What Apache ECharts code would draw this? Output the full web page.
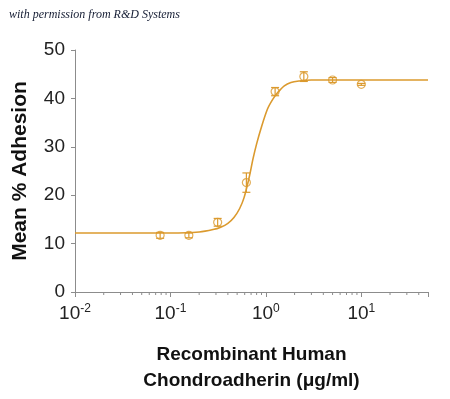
<!DOCTYPE html>
<html>
<head>
<meta charset="utf-8">
<script src="https://cdn.jsdelivr.net/npm/echarts@6/dist/echarts.min.js"></script>
<style>
  html, body { margin: 0; padding: 0; background: #fff; }
</style>
</head>
<body>
<div id="adhesionChart" style="width:450px; height:399px;"></div>
<script>
// measured points (ug/ml vs mean % adhesion)
const concs = [0.078, 0.156, 0.3125, 0.625, 1.25, 2.5, 5, 10];
const meanAdhesion = [11.7, 11.7, 14.4, 22.6, 41.4, 44.5, 43.8, 42.9];
const errAdhesion = [0.6, 0.5, 0.8, 2.0, 0.85, 1.0, 0.5, 0.2];

// fitted curve
const curveX = [0.01, 0.1, 0.2, 0.28, 0.336, 0.4, 0.463, 0.53, 0.591, 0.667, 0.735, 0.8, 0.886, 1.04, 1.18, 1.33, 1.56, 1.83, 2.24, 3, 50];
const curveY = [12.2, 12.2, 12.4, 12.9, 13.4, 14.2, 15.4, 17.2, 19.5, 23.6, 27.6, 30.6, 33.7, 37.8, 39.8, 41.2, 42.6, 43.3, 43.6, 43.8, 43.8];

// minor ticks of the log axis
const minorTicks = [0.02, 0.03, 0.04, 0.05, 0.06, 0.07, 0.08, 0.09,
  0.2, 0.3, 0.4, 0.5, 0.6, 0.7, 0.8, 0.9,
  2, 3, 4, 5, 6, 7, 8, 9,
  20, 30, 40];

const orange = '#DB9A2E';
const axisGray = '#8c8c8c';

const chart = echarts.init(document.getElementById('adhesionChart'));

chart.setOption({
  animation: false,
  grid: { left: 75, right: 22, top: 50, bottom: 103 },
  graphic: [{
    type: 'text',
    left: 9, top: 9,
    style: {
      text: 'with permission from R&D Systems',
      font: 'italic 12px "Liberation Serif", serif',
      fill: '#141c33'
    }
  }],
  xAxis: {
    type: 'log',
    logBase: 10,
    min: 0.01,
    max: 50,
    name: 'Recombinant Human\nChondroadherin (\u03bcg/ml)',
    nameLocation: 'middle',
    nameGap: 50,
    nameTextStyle: {
      fontFamily: 'Liberation Sans, Arial',
      fontWeight: 'bold',
      fontSize: 19,
      lineHeight: 26,
      color: '#111'
    },
    axisLine: { lineStyle: { color: axisGray, width: 1 } },
    axisTick: { show: true, length: 5, lineStyle: { color: axisGray } },
    splitLine: { show: false },
    axisLabel: {
      margin: 11,
      formatter: function (v) {
        const e = Math.round(Math.log10(v));
        if (Math.abs(Math.log10(v) - e) > 1e-6) return '';
        return '{b|10}{s|' + e + '}';
      },
      rich: {
        b: { fontFamily: 'Liberation Sans, Arial', fontSize: 19, color: '#222', lineHeight: 22 },
        s: { fontFamily: 'Liberation Sans, Arial', fontSize: 12, color: '#222', verticalAlign: 'top', lineHeight: 22 }
      }
    }
  },
  yAxis: {
    type: 'value',
    min: 0,
    max: 50,
    interval: 10,
    name: 'Mean % Adhesion',
    nameLocation: 'middle',
    nameGap: 44,
    nameTextStyle: {
      fontFamily: 'Liberation Sans, Arial',
      fontWeight: 'bold',
      fontSize: 21,
      color: '#111'
    },
    axisLine: { show: true, lineStyle: { color: axisGray, width: 1 } },
    axisTick: { show: true, length: 4, lineStyle: { color: axisGray } },
    splitLine: { show: false },
    axisLabel: {
      margin: 10,
      fontFamily: 'Liberation Sans, Arial',
      fontSize: 19,
      color: '#222'
    }
  },
  series: [
    {
      type: 'line',
      name: 'fit',
      data: curveX.map((x, i) => [x, curveY[i]]),
      smooth: 0.3,
      showSymbol: false,
      lineStyle: { color: orange, width: 1.6 },
      z: 2
    },
    {
      type: 'custom',
      name: 'errors',
      data: concs.map((x, i) => [x, meanAdhesion[i] - errAdhesion[i], meanAdhesion[i] + errAdhesion[i]]),
      renderItem: function (params, api) {
        const lo = api.coord([api.value(0), api.value(1)]);
        const hi = api.coord([api.value(0), api.value(2)]);
        const w = 4;
        const st = { stroke: orange, lineWidth: 1.2 };
        return {
          type: 'group',
          children: [
            { type: 'line', shape: { x1: lo[0], y1: lo[1], x2: hi[0], y2: hi[1] }, style: st },
            { type: 'line', shape: { x1: lo[0] - w, y1: lo[1], x2: lo[0] + w, y2: lo[1] }, style: st },
            { type: 'line', shape: { x1: hi[0] - w, y1: hi[1], x2: hi[0] + w, y2: hi[1] }, style: st }
          ]
        };
      },
      z: 3
    },
    {
      type: 'scatter',
      name: 'mean',
      data: concs.map((x, i) => [x, meanAdhesion[i]]),
      symbol: 'circle',
      symbolSize: 8,
      itemStyle: { color: 'rgba(255,255,255,0)', borderColor: orange, borderWidth: 1.2 },
      z: 4
    },
    {
      type: 'custom',
      name: 'minorTicks',
      data: minorTicks.map(v => [v, 0]),
      renderItem: function (params, api) {
        const p = api.coord([api.value(0), 0]);
        return {
          type: 'line',
          shape: { x1: p[0], y1: p[1], x2: p[0], y2: p[1] + 3 },
          style: { stroke: axisGray, lineWidth: 1 }
        };
      },
      clip: false,
      silent: true,
      z: 1
    }
  ]
});
</script>
</body>
</html>
